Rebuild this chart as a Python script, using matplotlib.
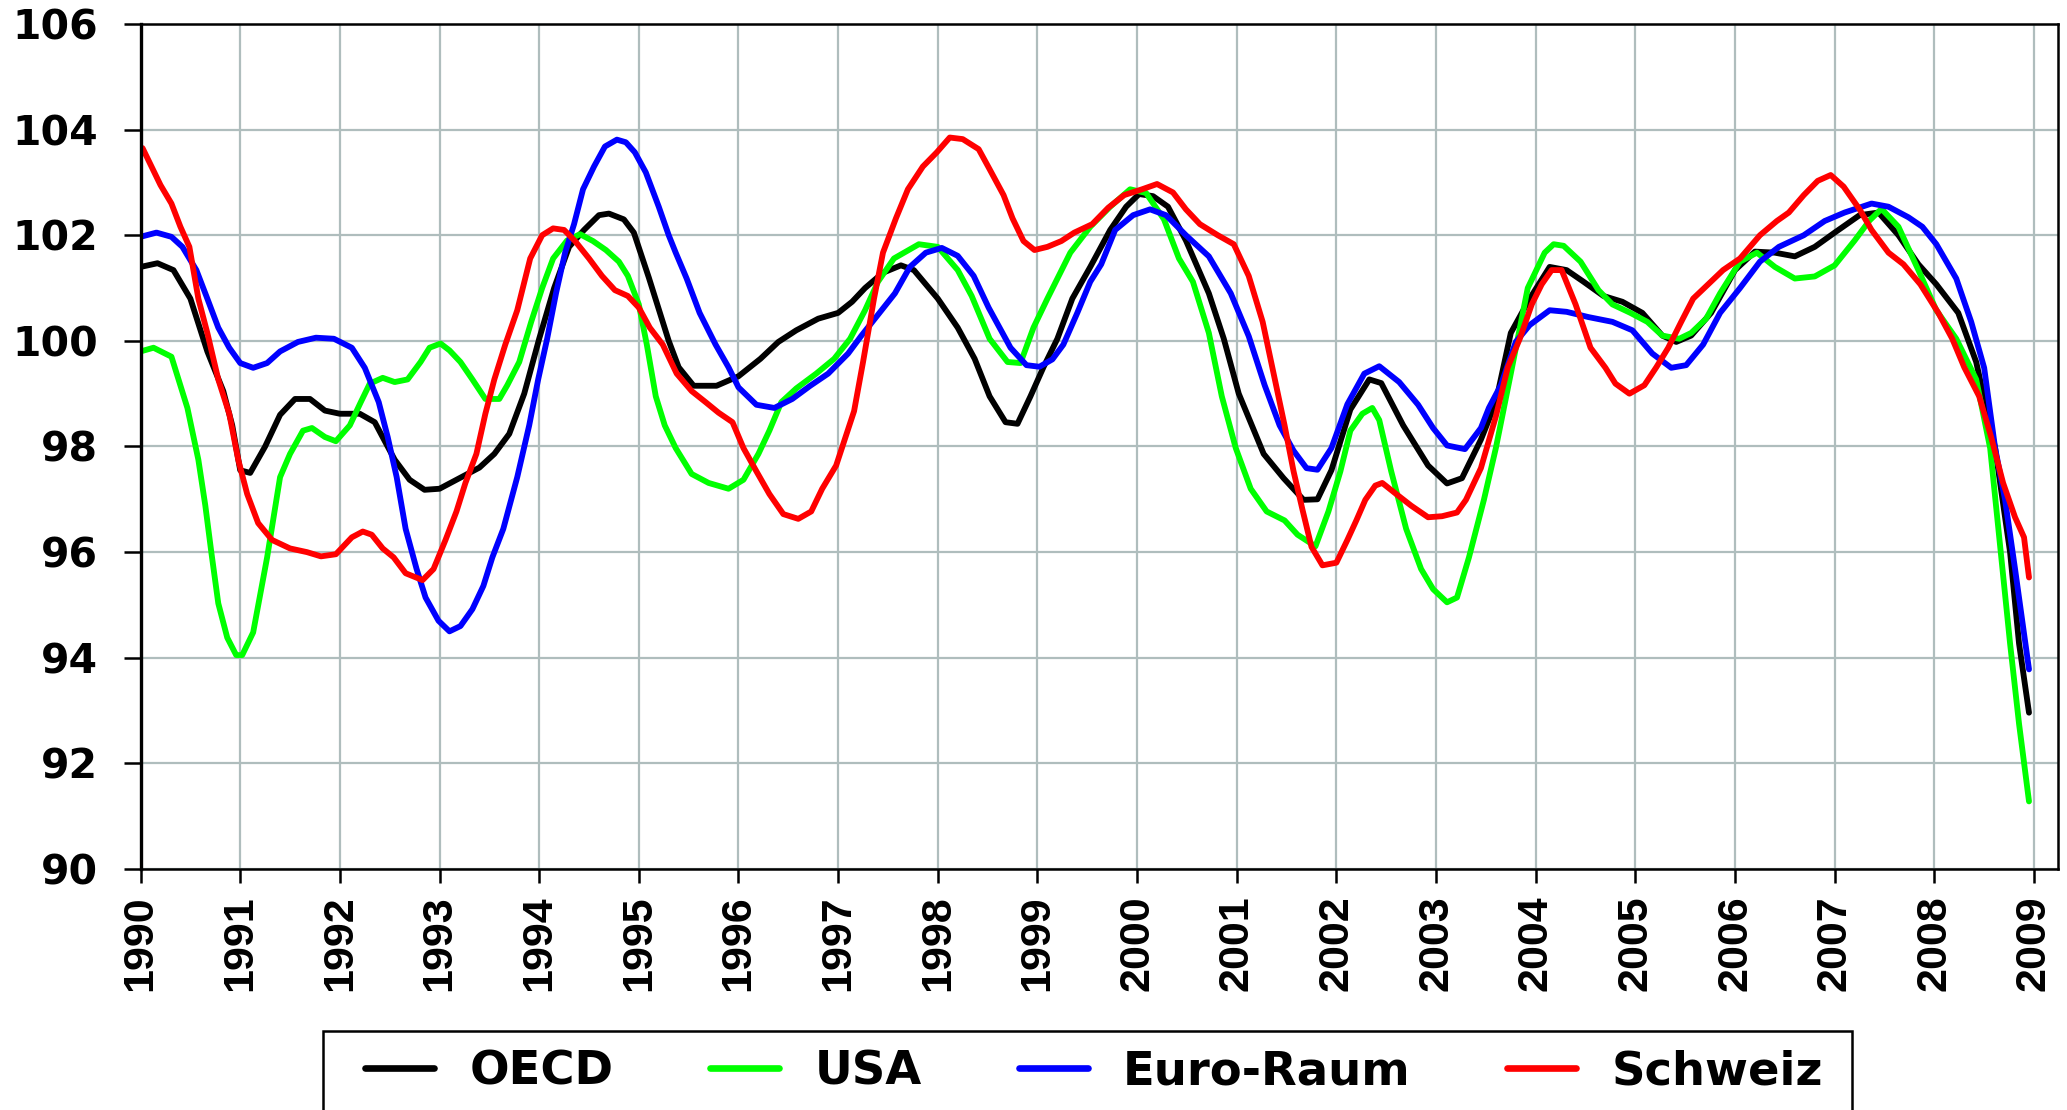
import matplotlib
matplotlib.use("Agg")
import matplotlib.pyplot as plt
from matplotlib.patches import Rectangle

# Jahre (x) und Indexwerte (y)
oecd_x = [1990.0, 1990.17, 1990.33, 1990.5, 1990.67, 1990.83, 1990.92, 1991.0, 1991.1, 1991.25,
          1991.4, 1991.55, 1991.7, 1991.85, 1992.0, 1992.2, 1992.35, 1992.55, 1992.7, 1992.85,
          1993.0, 1993.2, 1993.4, 1993.55, 1993.7, 1993.85, 1994.0, 1994.15, 1994.3, 1994.45,
          1994.6, 1994.7, 1994.85, 1994.95, 1995.1, 1995.2, 1995.3, 1995.4, 1995.55, 1995.78,
          1996.0, 1996.22, 1996.4, 1996.58, 1996.8, 1997.0, 1997.14, 1997.27, 1997.45, 1997.63,
          1997.76, 1998.0, 1998.2, 1998.37, 1998.52, 1998.68, 1998.8, 1998.93, 1999.06, 1999.2,
          1999.35, 1999.53, 1999.73, 1999.89, 2000.02, 2000.16, 2000.31, 2000.49, 2000.72, 2000.87,
          2001.02, 2001.27, 2001.47, 2001.67, 2001.81, 2001.95, 2002.14, 2002.33, 2002.45, 2002.67,
          2002.92, 2003.11, 2003.26, 2003.45, 2003.6, 2003.75, 2003.94, 2004.14, 2004.31, 2004.48,
          2004.68, 2004.87, 2005.07, 2005.27, 2005.41, 2005.56, 2005.76, 2006.0, 2006.2, 2006.4,
          2006.6, 2006.8, 2007.0, 2007.25, 2007.44, 2007.64, 2007.84, 2008.02, 2008.24, 2008.42,
          2008.61, 2008.76, 2008.85, 2008.95]
oecd_y = [101.4, 101.47, 101.34, 100.8, 99.8, 99.05, 98.4, 97.55, 97.5, 98.0,
          98.6, 98.9, 98.9, 98.68, 98.62, 98.62, 98.46, 97.75, 97.37, 97.18,
          97.2, 97.4, 97.6, 97.86, 98.24, 99.0, 100.04, 101.0, 101.78, 102.1,
          102.38, 102.41, 102.3, 102.05, 101.2, 100.6, 100.0, 99.5, 99.15, 99.15,
          99.33, 99.66, 99.98, 100.2, 100.42, 100.53, 100.74, 101.0, 101.29, 101.43,
          101.34, 100.8, 100.25, 99.66, 98.95, 98.46, 98.43, 98.95, 99.5, 100.04,
          100.8, 101.4, 102.1, 102.54, 102.78, 102.74, 102.54, 101.9, 100.9, 100.04,
          99.0, 97.86, 97.4, 96.99, 97.0, 97.55, 98.7, 99.27, 99.2, 98.4,
          97.64, 97.3, 97.4, 98.13, 98.84, 100.15, 100.8, 101.4, 101.34, 101.12,
          100.85, 100.74, 100.53, 100.1, 99.98, 100.1, 100.53, 101.34, 101.69, 101.67,
          101.6, 101.78, 102.05, 102.38, 102.43, 102.0, 101.45, 101.07, 100.53, 99.6,
          97.97, 96.0, 94.27, 92.96]

usa_x = [1990.0, 1990.13, 1990.31, 1990.47, 1990.58, 1990.65, 1990.71, 1990.78, 1990.87, 1990.96,
         1991.02, 1991.13, 1991.27, 1991.4, 1991.5, 1991.63, 1991.72, 1991.85, 1991.96, 1992.1,
         1992.21, 1992.3, 1992.43, 1992.55, 1992.68, 1992.81, 1992.9, 1993.01, 1993.1, 1993.21,
         1993.33, 1993.46, 1993.6, 1993.68, 1993.8, 1993.92, 1994.03, 1994.14, 1994.28, 1994.41,
         1994.54, 1994.67, 1994.8, 1994.89, 1995.0, 1995.08, 1995.17, 1995.26, 1995.37, 1995.53,
         1995.7, 1995.9, 1996.05, 1996.2, 1996.31, 1996.43, 1996.58, 1996.78, 1996.96, 1997.12,
         1997.27, 1997.4, 1997.56, 1997.81, 1998.0, 1998.2, 1998.34, 1998.52, 1998.7, 1998.83,
         1998.96, 1999.1, 1999.33, 1999.53, 1999.73, 1999.93, 2000.09, 2000.27, 2000.42, 2000.56,
         2000.72, 2000.85, 2000.99, 2001.14, 2001.3, 2001.48, 2001.61, 2001.79, 2001.92, 2002.04,
         2002.14, 2002.26, 2002.36, 2002.43, 2002.55, 2002.7, 2002.85, 2002.97, 2003.11, 2003.21,
         2003.33, 2003.48, 2003.6, 2003.75, 2003.92, 2004.09, 2004.18, 2004.28, 2004.45, 2004.63,
         2004.77, 2004.95, 2005.12, 2005.27, 2005.44, 2005.56, 2005.71, 2005.85, 2006.05, 2006.22,
         2006.4, 2006.6, 2006.8, 2007.0, 2007.2, 2007.35, 2007.47, 2007.64, 2007.84, 2008.02,
         2008.22, 2008.42, 2008.56, 2008.66, 2008.76, 2008.85, 2008.95]
usa_y = [99.8, 99.87, 99.7, 98.73, 97.75, 96.88, 96.0, 95.03, 94.38, 94.05,
         94.05, 94.48, 95.9, 97.42, 97.86, 98.3, 98.35, 98.18, 98.1, 98.4,
         98.84, 99.19, 99.3, 99.22, 99.27, 99.6, 99.87, 99.95, 99.82, 99.6,
         99.27, 98.9, 98.9, 99.16, 99.6, 100.36, 101.0, 101.56, 101.9, 102.02,
         101.89, 101.72, 101.5, 101.23, 100.69, 99.93, 98.95, 98.4, 97.97, 97.48,
         97.31, 97.2, 97.37, 97.86, 98.3, 98.84, 99.1, 99.38, 99.66, 100.04,
         100.58, 101.12, 101.56, 101.83, 101.78, 101.34, 100.85, 100.04, 99.6, 99.58,
         100.25, 100.8, 101.67, 102.16, 102.54, 102.87, 102.8, 102.3, 101.56, 101.12,
         100.15, 98.95, 97.97, 97.2, 96.77, 96.6, 96.33, 96.11, 96.77, 97.53,
         98.3, 98.62, 98.73, 98.5, 97.53, 96.44, 95.68, 95.3, 95.05, 95.14,
         95.9, 96.99, 97.97, 99.38, 101.0, 101.67, 101.83, 101.8, 101.5, 100.96,
         100.69, 100.53, 100.36, 100.1, 100.04, 100.15, 100.42, 100.9, 101.5, 101.67,
         101.4, 101.18, 101.22, 101.43, 101.9, 102.28, 102.5, 102.16, 101.34, 100.58,
         100.04, 99.27, 97.97, 96.12, 94.27, 92.75, 91.28]

euro_x = [1990.0, 1990.16, 1990.31, 1990.42, 1990.56, 1990.67, 1990.78, 1990.89, 1991.0, 1991.13,
          1991.27, 1991.4, 1991.58, 1991.76, 1991.94, 1992.12, 1992.25, 1992.39, 1992.48, 1992.57,
          1992.66, 1992.77, 1992.86, 1992.99, 1993.1, 1993.21, 1993.33, 1993.44, 1993.53, 1993.64,
          1993.78, 1993.9, 1993.99, 1994.08, 1994.17, 1994.26, 1994.35, 1994.44, 1994.55, 1994.66,
          1994.78, 1994.87, 1994.96, 1995.07, 1995.2, 1995.3, 1995.37, 1995.48, 1995.61, 1995.77,
          1995.9, 1996.0, 1996.18, 1996.36, 1996.54, 1996.72, 1996.9, 1997.1, 1997.23, 1997.39,
          1997.57, 1997.72, 1997.88, 1998.04, 1998.2, 1998.36, 1998.51, 1998.62, 1998.73, 1998.89,
          1999.02, 1999.15, 1999.26, 1999.4, 1999.53, 1999.64, 1999.78, 1999.96, 2000.13, 2000.29,
          2000.49, 2000.72, 2000.94, 2001.12, 2001.28, 2001.43, 2001.57, 2001.7, 2001.81, 2001.95,
          2002.11, 2002.28, 2002.43, 2002.63, 2002.82, 2002.97, 2003.11, 2003.29, 2003.45, 2003.53,
          2003.65, 2003.8, 2003.94, 2004.14, 2004.31, 2004.53, 2004.77, 2004.97, 2005.17, 2005.36,
          2005.51, 2005.68, 2005.85, 2006.05, 2006.25, 2006.44, 2006.69, 2006.9, 2007.1, 2007.37,
          2007.54, 2007.74, 2007.88, 2008.02, 2008.22, 2008.37, 2008.5, 2008.61, 2008.71, 2008.81,
          2008.95]
euro_y = [101.97, 102.05, 101.97, 101.78, 101.34, 100.8, 100.25, 99.87, 99.58, 99.49,
          99.58, 99.8, 99.98, 100.06, 100.04, 99.87, 99.49, 98.84, 98.18, 97.42,
          96.44, 95.68, 95.14, 94.7, 94.5, 94.6, 94.92, 95.36, 95.9, 96.44,
          97.42, 98.4, 99.27, 100.04, 100.91, 101.67, 102.21, 102.87, 103.3, 103.68,
          103.81, 103.76, 103.57, 103.19, 102.54, 102.0, 101.67, 101.18, 100.53, 99.93,
          99.5, 99.12, 98.79, 98.73, 98.9, 99.15, 99.38, 99.76, 100.09, 100.47,
          100.9, 101.4, 101.67, 101.76, 101.61, 101.23, 100.63, 100.25, 99.87, 99.54,
          99.51, 99.65, 99.93, 100.53, 101.12, 101.45, 102.1, 102.38, 102.49, 102.38,
          102.0, 101.6, 100.9, 100.09, 99.16, 98.4, 97.92, 97.59, 97.56, 97.97,
          98.8, 99.38, 99.52, 99.22, 98.79, 98.35, 98.02, 97.95, 98.35, 98.73,
          99.16, 99.98, 100.3, 100.58, 100.55, 100.45, 100.36, 100.2, 99.76, 99.49,
          99.54, 99.93, 100.53, 101.0, 101.5, 101.78, 102.0, 102.27, 102.43, 102.6,
          102.54, 102.34, 102.16, 101.83, 101.18, 100.36, 99.49, 97.97, 96.99, 95.68,
          93.78]

ch_x = [1990.02, 1990.11, 1990.2, 1990.31, 1990.4, 1990.49, 1990.58, 1990.67, 1990.78, 1990.89,
        1990.98, 1991.07, 1991.18, 1991.32, 1991.5, 1991.67, 1991.81, 1991.96, 1992.12, 1992.23,
        1992.32, 1992.43, 1992.54, 1992.66, 1992.83, 1992.94, 1993.06, 1993.17, 1993.26, 1993.37,
        1993.46, 1993.55, 1993.66, 1993.78, 1993.91, 1994.03, 1994.14, 1994.25, 1994.36, 1994.5,
        1994.63, 1994.76, 1994.89, 1995.0, 1995.11, 1995.24, 1995.38, 1995.53, 1995.67, 1995.8,
        1995.94, 1996.05, 1996.18, 1996.31, 1996.45, 1996.6, 1996.73, 1996.84, 1996.98, 1997.16,
        1997.25, 1997.36, 1997.45, 1997.58, 1997.7, 1997.85, 1997.99, 1998.12, 1998.25, 1998.41,
        1998.52, 1998.66, 1998.75, 1998.86, 1998.97, 1999.1, 1999.24, 1999.37, 1999.55, 1999.71,
        1999.87, 2000.05, 2000.2, 2000.36, 2000.49, 2000.63, 2000.81, 2000.97, 2001.12, 2001.26,
        2001.37, 2001.48, 2001.57, 2001.66, 2001.75, 2001.86, 2002.0, 2002.11, 2002.2, 2002.29,
        2002.39, 2002.46, 2002.6, 2002.75, 2002.92, 2003.06, 2003.21, 2003.3, 2003.45, 2003.6,
        2003.72, 2003.84, 2003.96, 2004.06, 2004.16, 2004.26, 2004.4, 2004.55, 2004.7, 2004.8,
        2004.94, 2005.09, 2005.21, 2005.33, 2005.46, 2005.58, 2005.73, 2005.88, 2006.05, 2006.25,
        2006.42, 2006.54, 2006.69, 2006.83, 2006.96, 2007.09, 2007.25, 2007.37, 2007.54, 2007.69,
        2007.86, 2008.04, 2008.18, 2008.3, 2008.45, 2008.57, 2008.69, 2008.81, 2008.9, 2008.95]
ch_y = [103.65, 103.3, 102.95, 102.6, 102.16, 101.78, 100.8, 100.15, 99.27, 98.62,
        97.75, 97.1, 96.55, 96.23, 96.07, 96.0, 95.92, 95.96, 96.28, 96.39,
        96.33, 96.07, 95.9, 95.6, 95.47, 95.68, 96.23, 96.77, 97.31, 97.86,
        98.62, 99.27, 99.93, 100.58, 101.56, 102.0, 102.13, 102.1, 101.89, 101.56,
        101.23, 100.96, 100.85, 100.63, 100.25, 99.93, 99.38, 99.05, 98.84, 98.64,
        98.46, 97.97, 97.53, 97.1, 96.72, 96.63, 96.77, 97.2, 97.64, 98.67,
        99.6, 100.8, 101.67, 102.32, 102.87, 103.3, 103.57, 103.85, 103.82, 103.63,
        103.25, 102.76, 102.32, 101.89, 101.72, 101.78, 101.89, 102.05, 102.21, 102.52,
        102.76, 102.87, 102.97, 102.81, 102.49, 102.21, 102.0, 101.83, 101.23, 100.36,
        99.38, 98.4, 97.53, 96.8, 96.1, 95.75, 95.8, 96.23, 96.6, 96.99,
        97.26, 97.31, 97.1, 96.88, 96.66, 96.68, 96.75, 96.99, 97.59, 98.57,
        99.5, 100.04, 100.69, 101.07, 101.34, 101.34, 100.69, 99.87, 99.49, 99.19,
        99.0, 99.16, 99.5, 99.87, 100.36, 100.8, 101.07, 101.34, 101.56, 102.0,
        102.27, 102.43, 102.76, 103.03, 103.14, 102.92, 102.49, 102.1, 101.67, 101.45,
        101.07, 100.53, 100.04, 99.5, 98.95, 98.18, 97.31, 96.66, 96.28, 95.52]

labels = ["OECD", "USA", "Euro-Raum", "Schweiz"]
colors = ["#000000", "#00FF00", "#0000FF", "#FF0000"]
years = list(range(1990, 2010))
y_ticks = list(range(90, 107, 2))

plt.rcParams['font.family'] = ['DejaVu Sans']
plt.rcParams['font.weight'] = 'bold'

fig = plt.figure(figsize=(20.67, 11.10), dpi=100)
ax = fig.add_axes([0.068, 0.2171, 0.9276, 0.7613])

series = [(oecd_x, oecd_y), (usa_x, usa_y), (euro_x, euro_y), (ch_x, ch_y)]
for (xs, ys), lab, col in zip(series, labels, colors):
    ax.plot(xs, ys, color=col, lw=4.2, label=lab,
            solid_capstyle='round', solid_joinstyle='round')

ax.set_xlim(1990, 2009.24)
ax.set_ylim(90, 106)
ax.set_xticks(years)
# x-Beschriftung etwas schmaler als DejaVu, daher Liberation Sans
ax.set_xticklabels([str(y) for y in years], rotation=90, fontsize=31, fontweight='bold',
                   family=['Liberation Sans', 'DejaVu Sans'])
ax.set_yticks(y_ticks)
ax.set_yticklabels([str(v) for v in y_ticks], fontsize=29.5, fontweight='bold')
ax.tick_params(axis='x', length=10, width=1.8, pad=9, direction='out')
ax.tick_params(axis='y', length=12.5, width=1.8, pad=18, direction='out')

ax.grid(True, color='#AFBDBD', lw=1.6)
ax.set_axisbelow(True)
for sp in ax.spines.values():
    sp.set_color('black')
    sp.set_linewidth(1.8)
ax.spines['left'].set_linewidth(2.4)

# Legende ohne eigenen Rahmen, Rahmen separat (unten abgeschnitten wie im Original)
leg = fig.legend(loc='center', bbox_to_anchor=(0.5293, 0.0342), ncol=4,
                 prop={'size': 33.5, 'weight': 'bold'}, frameon=False,
                 handlelength=1.48, handletextpad=0.75, columnspacing=2.09,
                 borderpad=0, borderaxespad=0)
for h in leg.get_lines():
    h.set_linewidth(4.8)
    h.set_solid_capstyle('round')

box = Rectangle((0.1563, -0.02), 0.7397, 0.0912, transform=fig.transFigure,
                fill=False, edgecolor='black', linewidth=1.8)
fig.patches.append(box)

fig.savefig("out.png", dpi=100)
